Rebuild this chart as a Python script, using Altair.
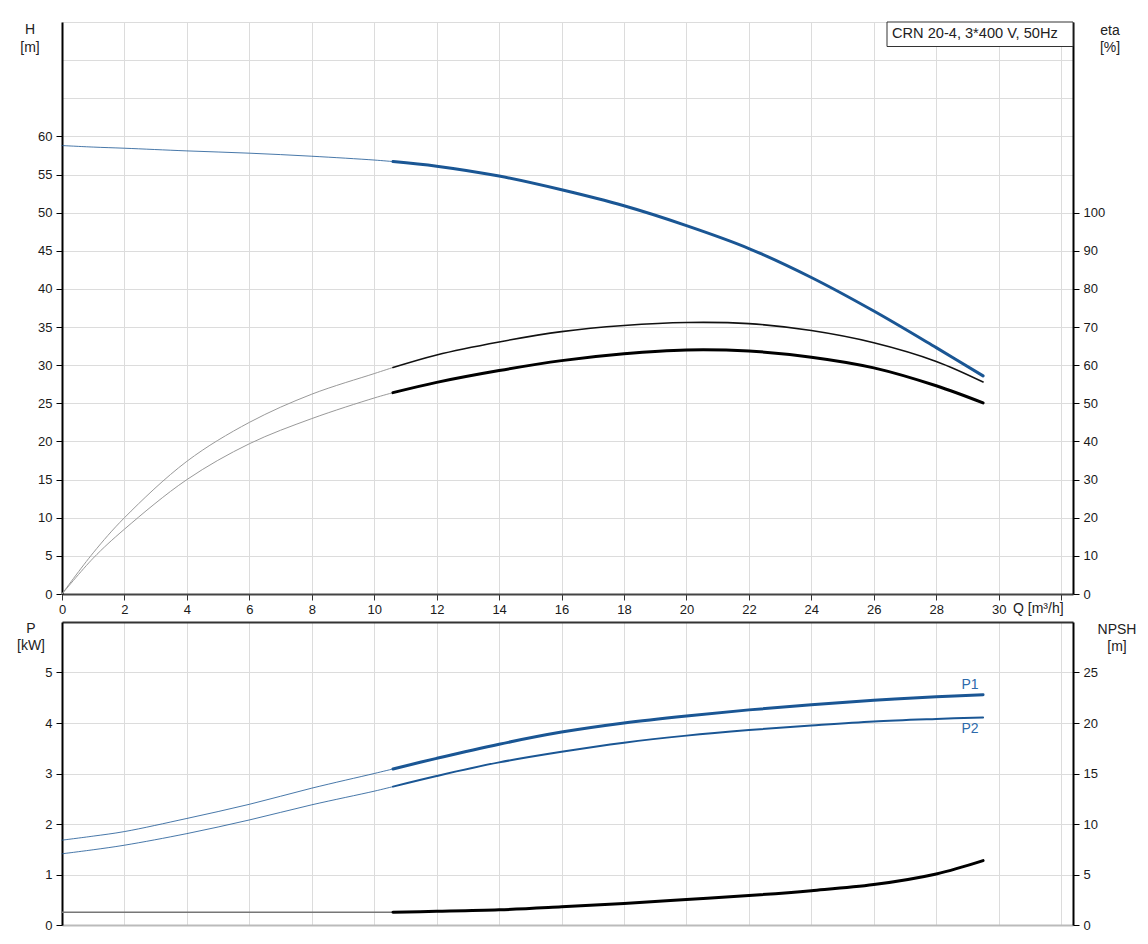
import altair as alt
import pandas as pd

FONT = "Liberation Sans"
BLUE = "#1a5694"

# ---------------- data ----------------
q_lo = [0, 1, 2, 4, 6, 8, 10, 10.6]
q_hi = [10.6, 12, 14, 16, 18, 20, 22, 24, 26, 28, 29.5]

h_lo = [58.8, 58.6, 58.45, 58.1, 57.8, 57.4, 56.9, 56.7]
h_hi = [56.7, 56.1, 54.8, 53.0, 50.9, 48.3, 45.3, 41.5, 37.1, 32.3, 28.6]

eta_pump_lo = [0, 10.8, 20.0, 34.8, 45.0, 52.4, 57.8, 59.4]
eta_pump_hi = [59.4, 62.7, 66.1, 68.8, 70.4, 71.2, 70.9, 69.1, 65.9, 61.0, 55.6]
eta_tot_lo = [0, 9.4, 17.0, 30.0, 39.4, 46.0, 51.4, 52.8]
eta_tot_hi = [52.8, 55.5, 58.6, 61.2, 63.0, 64.0, 63.7, 62.1, 59.3, 54.6, 50.1]

p1_lo = [1.68, 1.76, 1.85, 2.11, 2.39, 2.71, 3.00, 3.09]
p1_hi = [3.09, 3.30, 3.58, 3.82, 4.00, 4.14, 4.26, 4.36, 4.45, 4.52, 4.56]
p2_lo = [1.41, 1.49, 1.58, 1.81, 2.08, 2.38, 2.65, 2.74]
p2_hi = [2.74, 2.95, 3.22, 3.43, 3.61, 3.75, 3.86, 3.95, 4.03, 4.08, 4.11]

npsh_lo = [1.27, 1.27, 1.27, 1.27, 1.27, 1.27, 1.27, 1.27]
npsh_hi = [1.27, 1.35, 1.50, 1.80, 2.14, 2.53, 2.92, 3.40, 4.00, 5.05, 6.37]

q_ticks = [0, 2, 4, 6, 8, 10, 12, 14, 16, 18, 20, 22, 24, 26, 28, 30, 32]
h_ticks = [0, 5, 10, 15, 20, 25, 30, 35, 40, 45, 50, 55, 60, 65, 70, 75]
eta_ticks = [0, 10, 20, 30, 40, 50, 60, 70, 80, 90, 100]
p_ticks = [0, 1, 2, 3, 4, 5, 6]
npsh_ticks = [0, 5, 10, 15, 20, 25]

title_text = "CRN 20-4, 3*400 V, 50Hz"

# ---------------- long table ----------------
rows = []
def add(name, qs, vs):
    for q, v in zip(qs, vs):
        rows.append({"curve": name, "q": q, "v": v})

add("H_lo", q_lo, h_lo); add("H_hi", q_hi, h_hi)
add("E1_lo", q_lo, eta_pump_lo); add("E1_hi", q_hi, eta_pump_hi)
add("E2_lo", q_lo, eta_tot_lo); add("E2_hi", q_hi, eta_tot_hi)
add("P1_lo", q_lo, p1_lo); add("P1_hi", q_hi, p1_hi)
add("P2_lo", q_lo, p2_lo); add("P2_hi", q_hi, p2_hi)
add("N_lo", q_lo, npsh_lo); add("N_hi", q_hi, npsh_hi)
df = pd.DataFrame(rows)

W = 1011
H_TOP = 572
H_BOT = 303

xscale = alt.Scale(domain=[0, 32.38], nice=False, zero=False)

x_top = alt.X("q:Q", scale=xscale, title=None,
              axis=alt.Axis(values=q_ticks, grid=True,
                            labelExpr="datum.value <= 30 ? datum.label : ''",
                            domainColor="#444", domainWidth=2, tickColor="#333",
                            tickSize=6, labelPadding=3))
x_bot = alt.X("q:Q", scale=xscale, title=None,
              axis=alt.Axis(values=q_ticks, grid=True, labels=False, ticks=False,
                            domainColor="#bbbbbb", domainWidth=2))

y_h = alt.Y("v:Q", scale=alt.Scale(domain=[0, 75], nice=False), title=None,
            axis=alt.Axis(values=h_ticks, grid=True,
                          labelExpr="datum.value <= 60 ? datum.label : ''",
                          tickOpacity={"condition": {"test": "datum.value <= 60", "value": 1}, "value": 0},
                          domainColor="#000", domainWidth=2, tickSize=6, labelPadding=4))
y_eta = alt.Y("v:Q", scale=alt.Scale(domain=[0, 150], nice=False), title=None,
              axis=alt.Axis(orient="right", values=eta_ticks, grid=False,
                            domainColor="#000", domainWidth=2, tickSize=6, labelPadding=4))
y_p = alt.Y("v:Q", scale=alt.Scale(domain=[0, 6], nice=False), title=None,
            axis=alt.Axis(values=p_ticks, grid=True,
                          labelExpr="datum.value <= 5 ? datum.label : ''",
                          tickOpacity={"condition": {"test": "datum.value <= 5", "value": 1}, "value": 0},
                          gridColor={"condition": {"test": "datum.value >= 6", "value": "#333"}, "value": "#dcdcdc"},
                          gridWidth={"condition": {"test": "datum.value >= 6", "value": 2}, "value": 1},
                          domainColor="#000", domainWidth=2, tickSize=6, labelPadding=4))
y_npsh = alt.Y("v:Q", scale=alt.Scale(domain=[0, 30], nice=False), title=None,
               axis=alt.Axis(orient="right", values=npsh_ticks, grid=False,
                             domainColor="#000", domainWidth=2, tickSize=6, labelPadding=4))


def line(name, color, width, xenc, yenc, opacity=1.0):
    return alt.Chart(df).transform_filter(alt.datum.curve == name).mark_line(
        color=color, strokeWidth=width, interpolate="catmull-rom", strokeCap="round",
        opacity=opacity
    ).encode(x=xenc, y=yenc)


def label(text, x, y, align="center", color="#222", size=13):
    return alt.Chart(pd.DataFrame({"t": [text]})).mark_text(
        align=align, baseline="middle", font=FONT, fontSize=size, color=color
    ).encode(x=alt.value(x), y=alt.value(y), text="t:N")


# invisible anchor fixing the page offset of the plot area
anchor = alt.Chart(pd.DataFrame({"a": [0]})).mark_rule(color="white", strokeWidth=0.5).encode(
    x=alt.value(-53), x2=alt.value(-52), y=alt.value(-13))

box = alt.Chart(pd.DataFrame({"a": [0]})).mark_rect(
    fill="white", stroke="#333", strokeWidth=1
).encode(x=alt.value(825), x2=alt.value(1011), y=alt.value(0), y2=alt.value(24.5))

h_group = alt.layer(
    line("H_lo", BLUE, 1, x_top, y_h, 0.8),
    line("H_hi", BLUE, 3, x_top, y_h),
    anchor,
    box,
    label(title_text, 830, 12, align="left", size=14.6),
    label("H", -32, 8, size=14),
    label("[m]", -32, 25.5, size=14),
    label("eta", 1048, 8.5, size=14),
    label("[%]", 1048, 25.5, size=14),
    label("Q [m³/h]", 951, 586.7, align="left", size=14),
)
eta_group = alt.layer(
    line("E1_lo", "#999999", 1, x_top, y_eta),
    line("E2_lo", "#999999", 1, x_top, y_eta),
    line("E1_hi", "#111111", 1.6, x_top, y_eta),
    line("E2_hi", "#000000", 3, x_top, y_eta),
)
top = alt.layer(h_group, eta_group).resolve_scale(y="independent").properties(width=W, height=H_TOP)

end_pts = df[df.curve.isin(["P1_hi", "P2_hi"])].groupby("curve").tail(1).copy()
end_pts["lab"] = end_pts["curve"].str.replace("_hi", "")

p1_lab = alt.Chart(end_pts[end_pts.lab == "P1"]).mark_text(
    font=FONT, fontSize=14, color="#2d6aab", dx=-13, dy=-10, baseline="middle"
).encode(x=x_bot, y=y_p, text="lab:N")
p2_lab = alt.Chart(end_pts[end_pts.lab == "P2"]).mark_text(
    font=FONT, fontSize=14, color="#2d6aab", dx=-13, dy=11.5, baseline="middle"
).encode(x=x_bot, y=y_p, text="lab:N")

p_group = alt.layer(
    line("P1_lo", BLUE, 1, x_bot, y_p, 0.8),
    line("P2_lo", BLUE, 1, x_bot, y_p, 0.8),
    line("P1_hi", BLUE, 3, x_bot, y_p),
    line("P2_hi", BLUE, 2, x_bot, y_p),
    p1_lab, p2_lab,
    label("P", -31, 7, size=14),
    label("[kW]", -31, 24, size=14),
    label("NPSH", 1055, 8, size=14),
    label("[m]", 1055, 24.5, size=14),
)
n_group = alt.layer(
    line("N_lo", "#777777", 1.5, x_bot, y_npsh),
    line("N_hi", "#000000", 3, x_bot, y_npsh),
)
bottom = alt.layer(p_group, n_group).resolve_scale(y="independent").properties(width=W, height=H_BOT)

chart = alt.vconcat(top, bottom, spacing=28, bounds="flush").properties(
    padding=0, background="white"
).configure_view(stroke=None).configure_axis(
    labelFont=FONT, labelFontSize=13, labelColor="#1a1a1a", labelFlush=False,
    gridColor="#dcdcdc", gridWidth=1, tickColor="#000"
)

chart.save("out.html", embed_options={"renderer": "svg", "actions": False})
